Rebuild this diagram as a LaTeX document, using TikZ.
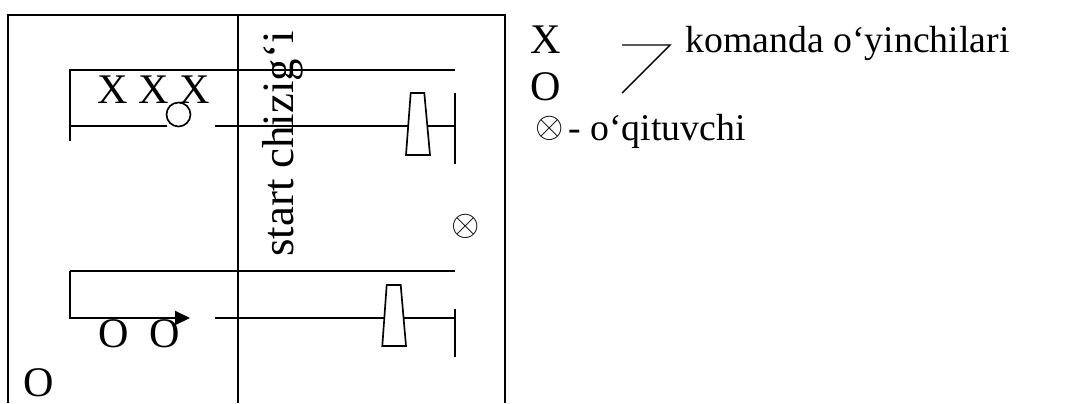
\documentclass[tikz,border=0pt]{standalone}
\usepackage{fontspec}
\setmainfont{Liberation Serif}
\usetikzlibrary{arrows.meta}
\begin{document}
\begin{tikzpicture}[x=0.02cm,y=-0.02cm,
  frame/.style={line width=1.5pt},
  thin line/.style={line width=0.95pt},
  cone/.style={line width=0.95pt,fill=white},
  bigtxt/.style={inner sep=0pt,font=\fontsize{24}{28}\selectfont},
  legtxt/.style={inner sep=0pt,font=\fontsize{21.5}{26}\selectfont},
  crossmark/.style={inner sep=0pt,font=\fontsize{22}{26}\selectfont}]
\useasboundingbox (0,0) rectangle (1065,403);
% outer frame and start line
\draw[frame] (8,403) -- (8,15) -- (505,15) -- (505,403);
\draw[frame] (238,15) -- (238,403);
% upper lane
\coordinate (uTL) at (70,70);
\coordinate (uTR) at (455,70);
\coordinate (uBL) at (70,126);
\draw[thin line] (70,141) -- (uTL) -- (uTR);
\draw[thin line] (uBL) -- (166.5,126);
\draw[thin line] (215,126) -- (455,126);
\draw[thin line] (455,93) -- (455,164);
\draw[cone] (410.7,93) -- (424.3,93) -- (430,155) -- (406,155) -- cycle;
\node[bigtxt,anchor=base west] (xxx) at (97,103) {X X X};
\draw[thin line] (178.5,114.5) circle[radius=12];
% lower lane
\coordinate (lTL) at (70,271);
\coordinate (lTR) at (455,271);
\coordinate (lBL) at (70,318);
\coordinate (arrTip) at (190,318);
\draw[thin line] (lTR) -- (lTL);
\draw[thin line,-{Triangle[length=8.5pt,width=8pt]}] (lTL) -- (lBL) -- (arrTip);
\draw[thin line] (215,318) -- (455,318);
\draw[thin line] (455,309) -- (455,357);
\draw[cone] (386.7,285) -- (400.7,285) -- (406,346) -- (382.3,346) -- cycle;
\node[bigtxt,anchor=base west] (oo) at (98,347) {O\ \ O};
\node[bigtxt,anchor=base west] (o1) at (23,396) {O};
% teacher
\node[crossmark] (t) at (466,226) {$\otimes$};
% start line label
\node[inner sep=0pt,font=\fontsize{25.5}{30}\selectfont,rotate=90,anchor=base west] (start) at (293,257) {start chizig‘i};
% legend
\node[bigtxt,anchor=base west] (lx) at (530,53) {X};
\node[bigtxt,anchor=base west] (lo) at (530,100) {O};
\coordinate (b1) at (622,45);
\coordinate (b2) at (670,45);
\coordinate (b3) at (622,93);
\draw[line width=0.8pt] (b1) -- (b2) -- (b3);
\node[legtxt,anchor=base west] (kom) at (685,52) {komanda o‘yinchilari};
\node[crossmark] (lt) at (550,128) {$\otimes$};
\node[legtxt,anchor=base west] (oq) at (568,140) {- o‘qituvchi};
\end{tikzpicture}
\end{document}
